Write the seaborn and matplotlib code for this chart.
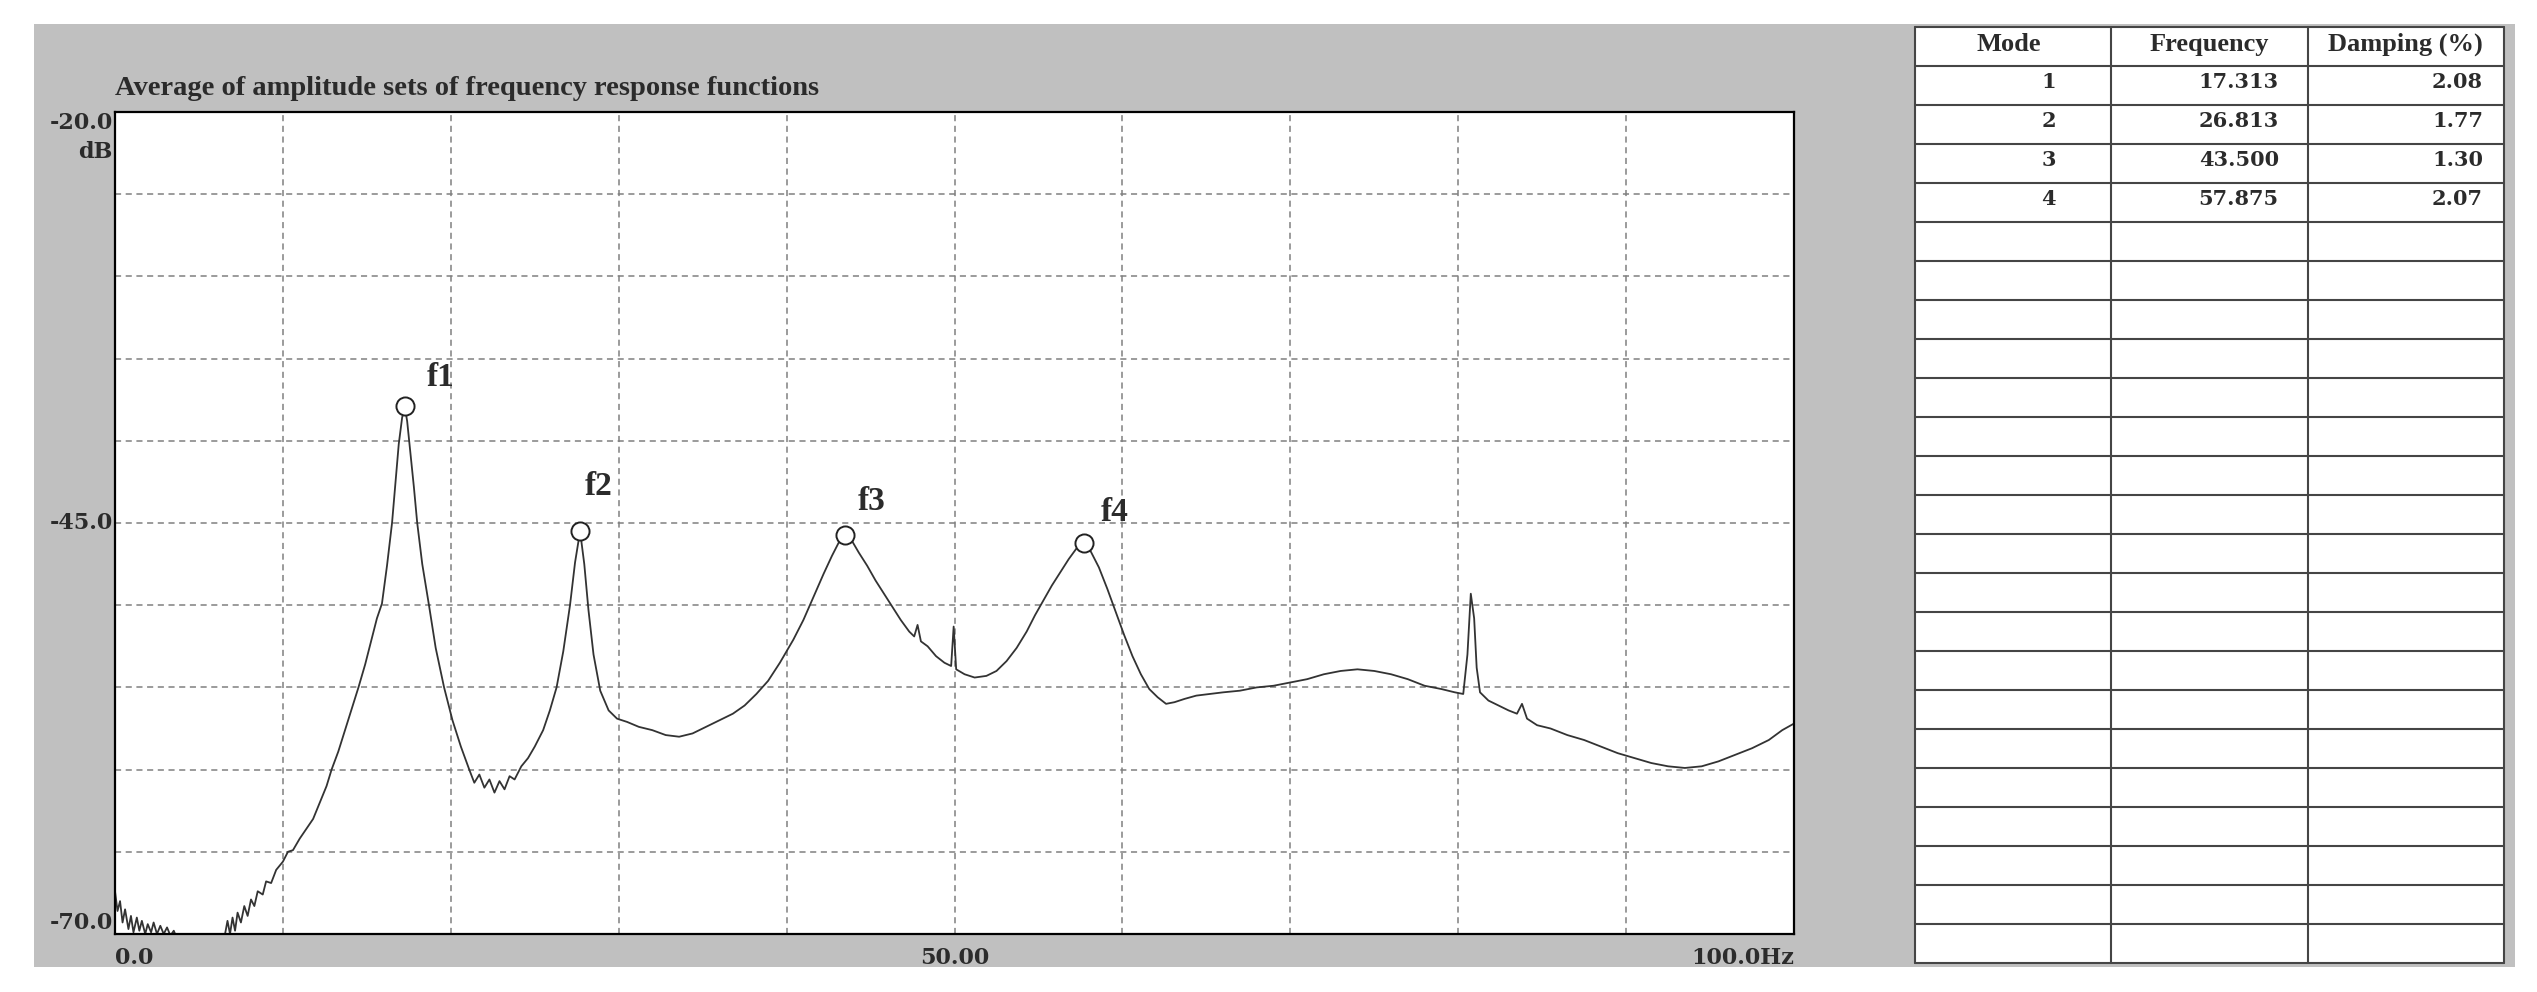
import matplotlib
matplotlib.use("Agg")
import matplotlib.pyplot as plt
from matplotlib.patches import Rectangle
import numpy as np
import pandas as pd
import seaborn as sns

# averaged FRF amplitude (Hz, dB)
freq_hz = [0.0, 0.15, 0.3, 0.45, 0.6, 0.8, 0.95, 1.1, 1.3, 1.45, 1.6, 1.8, 1.95, 2.15,
           2.3, 2.5, 2.7, 2.9, 3.1, 3.3, 3.5, 3.7, 4.0, 5.0, 6.0, 6.5, 6.7, 6.85, 7.0,
           7.15, 7.3, 7.5, 7.7, 7.9, 8.1, 8.3, 8.5, 8.8, 9.0, 9.3, 9.6, 10.0, 10.3,
           10.6, 11.0, 11.4, 11.8, 12.2, 12.6, 12.9, 13.3, 13.7, 14.1, 14.5, 14.9,
           15.3, 15.6, 15.9, 16.2, 16.5, 16.7, 16.9, 17.1, 17.25, 17.4, 17.55, 17.8,
           18.0, 18.3, 18.7, 19.1, 19.6, 20.1, 20.6, 21.1, 21.4, 21.7, 22.0, 22.3,
           22.6, 22.9, 23.2, 23.5, 23.8, 24.2, 24.6, 25.0, 25.5, 25.9, 26.3, 26.7,
           27.1, 27.4, 27.7, 27.95, 28.2, 28.5, 28.9, 29.4, 29.9, 30.5, 31.2, 32.0,
           32.8, 33.6, 34.4, 35.2, 36.0, 36.8, 37.5, 38.2, 38.9, 39.6, 40.4, 41.0,
           41.6, 42.2, 42.7, 43.1, 43.5, 43.9, 44.3, 44.8, 45.3, 45.8, 46.3, 46.8,
           47.3, 47.6, 47.8, 48.0, 48.4, 48.9, 49.4, 49.8, 49.95, 50.1, 50.6, 51.2,
           51.9, 52.5, 53.1, 53.7, 54.3, 54.8, 55.3, 55.8, 56.3, 56.8, 57.3, 57.7,
           58.1, 58.6, 59.1, 59.6, 60.1, 60.6, 61.1, 61.6, 62.1, 62.6, 63.1, 63.7,
           64.4, 65.2, 66.0, 67.0, 68.0, 69.0, 70.0, 71.0, 72.0, 73.0, 74.0, 75.0,
           76.0, 77.0, 78.0, 79.0, 79.8, 80.3, 80.55, 80.75, 80.95, 81.1, 81.3, 81.8,
           82.4, 83.0, 83.5, 83.8, 84.1, 84.7, 85.5, 86.5, 87.5, 88.5, 89.5, 90.5,
           91.5, 92.5, 93.5, 94.5, 95.5, 96.5, 97.5, 98.5, 99.3, 100.0]
amp_db = [-67.4, -68.6, -68.0, -69.3, -68.5, -69.7, -68.9, -69.9, -69.0, -69.8, -69.2,
          -70.0, -69.4, -69.9, -69.3, -70.0, -69.5, -70.0, -69.6, -70.1, -69.8, -70.3,
          -70.6, -70.8, -70.6, -70.3, -69.2, -70.0, -69.0, -69.8, -68.7, -69.3, -68.3,
          -68.9, -67.9, -68.3, -67.4, -67.6, -66.8, -66.9, -66.1, -65.6, -65.0, -64.9,
          -64.2, -63.6, -63.0, -62.0, -61.0, -60.0, -58.9, -57.6, -56.3, -55.0, -53.6,
          -52.0, -50.8, -49.9, -47.6, -45.0, -42.6, -40.2, -38.6, -37.9, -38.8, -40.3,
          -42.8, -45.0, -47.5, -50.0, -52.6, -55.0, -57.0, -58.6, -60.0, -60.8, -60.3,
          -61.1, -60.6, -61.4, -60.7, -61.2, -60.4, -60.6, -59.8, -59.3, -58.6, -57.6,
          -56.4, -55.0, -52.8, -50.0, -47.4, -45.5, -47.5, -50.3, -53.0, -55.2, -56.4,
          -56.9, -57.1, -57.4, -57.6, -57.9, -58.0, -57.8, -57.4, -57.0, -56.6, -56.1,
          -55.4, -54.6, -53.5, -52.1, -50.9, -49.5, -48.1, -47.0, -46.2, -45.7, -46.1,
          -46.8, -47.6, -48.5, -49.3, -50.1, -50.9, -51.6, -51.9, -51.2, -52.2, -52.5,
          -53.1, -53.5, -53.7, -51.3, -53.9, -54.2, -54.4, -54.3, -54.0, -53.4, -52.6,
          -51.6, -50.6, -49.7, -48.8, -48.0, -47.2, -46.5, -46.2, -46.7, -47.7, -49.0,
          -50.4, -51.8, -53.1, -54.2, -55.1, -55.6, -56.0, -55.9, -55.7, -55.5, -55.4,
          -55.3, -55.2, -55.0, -54.9, -54.7, -54.5, -54.2, -54.0, -53.9, -54.0, -54.2,
          -54.5, -54.9, -55.1, -55.3, -55.4, -53.0, -49.3, -50.8, -53.8, -55.3, -55.8,
          -56.1, -56.4, -56.6, -56.0, -56.9, -57.3, -57.5, -57.9, -58.2, -58.6, -59.0,
          -59.3, -59.6, -59.8, -59.9, -59.8, -59.5, -59.1, -58.7, -58.2, -57.6, -57.2]

# picked peaks
peak_names = ["f1", "f2", "f3", "f4"]
peak_hz = [17.25, 27.7, 43.5, 57.7]
peak_db = [-37.9, -45.5, -45.7, -46.2]

# mode table
table_header = ["Mode", "Frequency", "Damping (%)"]
modes = [1, 2, 3, 4]
mode_freq = [17.313, 26.813, 43.500, 57.875]
mode_damping = [2.08, 1.77, 1.30, 2.07]
n_rows = 23

x_ticks = [0, 50, 100]
x_labels = ["0.0", "50.00", "100.0Hz"]
y_ticks = [-70, -45, -20]
y_labels = ["-70.0", "-45.0", "-20.0"]

sns.set_style("white")
plt.rcParams["font.family"] = ["Liberation Serif", "DejaVu Serif"]
ink = "#2b2b2b"
num_font = dict(family="DejaVu Serif", weight="bold", color=ink)

W, H = 2537, 992
fig = plt.figure(figsize=(W / 100, H / 100), dpi=100)
fig.patches.append(Rectangle((34 / W, 1 - 967 / H), (2515 - 34) / W, (967 - 24) / H,
                             transform=fig.transFigure, facecolor="#c0c0c0",
                             edgecolor="none", zorder=-1))


def px_axes(left, top, right, bottom):
    return fig.add_axes([left / W, 1 - bottom / H, (right - left) / W, (bottom - top) / H])


# --- spectrum ---
ax = px_axes(115, 112, 1794, 934)
df = pd.DataFrame({"freq": freq_hz, "amp": amp_db})
sns.lineplot(data=df, x="freq", y="amp", ax=ax, color="#333333", lw=1.3, estimator=None)
sns.scatterplot(x=peak_hz, y=peak_db, ax=ax, s=170, facecolor="white",
                edgecolor="#222222", linewidth=1.4, zorder=4)
label_offsets = [(26, 21), (13, 32), (19, 24), (22, 22)]
for name, x, y, off in zip(peak_names, peak_hz, peak_db, label_offsets):
    ax.annotate(name, (x, y), xytext=off, textcoords="offset points", ha="center",
                va="center", fontsize=24, fontweight="bold", color=ink)

ax.set_xlim(0, 100)
ax.set_ylim(-70, -20)
ax.set_xticks(np.arange(0, 101, 10), minor=True)
ax.set_yticks(np.arange(-70, -19, 5), minor=True)
ax.set_xticks(x_ticks, x_labels, **num_font, fontsize=16)
ax.set_yticks(y_ticks, y_labels, **num_font, fontsize=16)
for lab, ha in zip(ax.get_xticklabels(), ["left", "center", "right"]):
    lab.set_ha(ha)
for lab, va in zip(ax.get_yticklabels(), ["bottom", "center", "top"]):
    lab.set_va(va)
ax.tick_params(which="both", length=0)
ax.tick_params(axis="x", pad=9)
ax.tick_params(axis="y", pad=1.5)
ax.grid(True, which="both", color="#808080", lw=1.1, linestyle=(0, (4, 3)))
for sp in ax.spines.values():
    sp.set_color("black")
    sp.set_linewidth(1.6)
ax.set_xlabel("")
ax.set_ylabel("")
ax.annotate("dB", (0, 1), xycoords="axes fraction", xytext=(-1.5, -29),
            textcoords="offset points", ha="right", va="center", fontsize=16, **num_font)
ax.set_title("Average of amplitude sets of frequency response functions", loc="left",
             pad=12, fontsize=20.5, fontweight="bold", color=ink)

# --- mode table ---
tab = px_axes(1915, 27, 2504, 963)
tab.set_xlim(0, 3)
tab.set_ylim(n_rows + 1, 0)
tab.set_facecolor("white")
tab.axis("off")
tab.add_patch(Rectangle((0, 0), 3, n_rows + 1, facecolor="white", edgecolor="none"))
for r in range(n_rows + 2):
    tab.plot([0, 3], [r, r], color="#454545", lw=1.5, clip_on=False)
for c in range(4):
    tab.plot([c, c], [0, n_rows + 1], color="#454545", lw=1.5, clip_on=False)
for c, head in enumerate(table_header):
    tab.text([0.48, 1.5, 2.5][c], 0.45, head, ha="center", va="center", fontsize=19,
             fontweight="bold", color=ink)
for i, (m, f, d) in enumerate(zip(modes, mode_freq, mode_damping)):
    y = i + 1.42
    tab.text(0.68, y, str(m), ha="center", va="center", fontsize=15, **num_font)
    tab.text(1.853, y, f"{f:.3f}", ha="right", va="center", fontsize=15, **num_font)
    tab.text(2.893, y, f"{d:.2f}", ha="right", va="center", fontsize=15, **num_font)

fig.savefig("out.png", dpi=100)
